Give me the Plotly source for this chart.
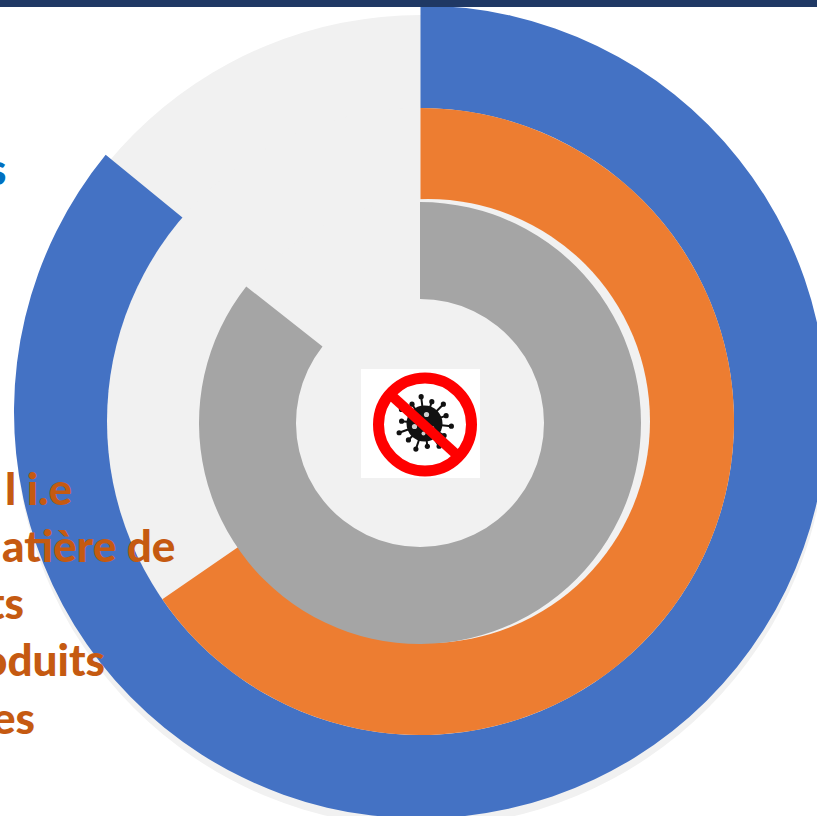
import math
import plotly.graph_objects as go

W, H = 840, 830

# Ring shares, percent of the full turn (remainder is left unfilled)
ring_names = ["Bleu", "Orange", "Gris"]
ring_values = [85.9, 65.4, 85.6]
ring_colors = ["#4472C4", "#ED7D31", "#A5A5A5"]
disc_color = "#F1F1F1"

# Visible text fragments at the left edge
orange_lines = ["l i.e", "atière de", "ts", "oduits", "es"]
blue_lines = ["s"]


def px(x):
    return x / W


def py(y):
    return 1 - y / H


def dom(cx, cy, r):
    return dict(x=[px(cx - r), px(cx + r)], y=[py(cy + r), py(cy - r)])


def disc(cx, cy, r):
    return go.Pie(values=[1], domain=dom(cx, cy, r), sort=False, textinfo="none",
                  hoverinfo="skip", showlegend=False,
                  marker=dict(colors=[disc_color], line=dict(width=0)))


def ring(i, cx, cy, r, hole=0):
    return go.Pie(values=[ring_values[i], 100 - ring_values[i]], labels=[ring_names[i], "reste"],
                  domain=dom(cx, cy, r), hole=hole, sort=False, direction="clockwise", rotation=0,
                  textinfo="none", hoverinfo="skip", showlegend=False,
                  marker=dict(colors=[ring_colors[i], "rgba(0,0,0,0)"], line=dict(width=0)))


fig = go.Figure()
fig.add_trace(disc(421, 421, 406))
fig.add_trace(ring(0, 420.5, 412, 406.5))
fig.add_trace(disc(420.5, 421.5, 313.5))
fig.add_trace(ring(1, 420.5, 421.5, 313.5))
fig.add_trace(disc(428, 421, 222))
fig.add_trace(ring(2, 420, 423, 221, hole=124 / 221))

shapes = []


def rect(x0, y0, x1, y1, color):
    shapes.append(dict(type="rect", xref="paper", yref="paper", x0=px(x0), x1=px(x1), y0=py(y0), y1=py(y1),
                       fillcolor=color, line=dict(width=0), layer="above"))


def circle(cx, cy, r, fill, lw=0, lc="rgba(0,0,0,0)"):
    shapes.append(dict(type="circle", xref="paper", yref="paper", x0=px(cx - r), x1=px(cx + r),
                       y0=py(cy + r), y1=py(cy - r), fillcolor=fill, line=dict(width=lw, color=lc), layer="above"))


def seg(x0, y0, x1, y1, color, lw):
    shapes.append(dict(type="line", xref="paper", yref="paper", x0=px(x0), x1=px(x1), y0=py(y0), y1=py(y1),
                       line=dict(width=lw, color=color), layer="above"))


# Top bar
rect(0, 0, W, 7, "#1F3864")

# Icon
rect(361, 369, 480, 478, "#FFFFFF")
icx, icy = 424.5, 423.5
for k in range(14):
    a = 2 * math.pi * k / 14 + 0.1
    rr = 27 if k % 2 == 0 else 23
    ex, ey = icx + rr * math.cos(a), icy + rr * math.sin(a)
    seg(icx, icy, ex, ey, "#111111", 2)
    circle(ex, ey, 2.6, "#111111")
circle(icx, icy, 18, "#111111")
for dx, dy, r in [(2, -9, 2.6), (-10, 3, 2.6), (-1, 10, 2), (8, 4, 1.6)]:
    circle(icx + dx, icy + dy, r, "#CFCFCF")
circle(425, 424.5, 46.5, "rgba(0,0,0,0)", 11, "#FF0000")
seg(392, 396, 457, 455, "#FF0000", 10)

annotations = []
right_edges = [74, 177, 26, 107, 37]
centers = [488, 545, 602, 659, 717]
for t, x, y in zip(orange_lines, right_edges, centers):
    annotations.append(dict(text=t, xref="paper", yref="paper", x=px(x), y=py(y), xanchor="right", yanchor="middle",
                            showarrow=False, font=dict(family="Lato", size=44, color="#C55A11", weight=900)))
annotations.append(dict(text=blue_lines[0], xref="paper", yref="paper", x=px(8), y=py(168), xanchor="right",
                        yanchor="middle", showarrow=False,
                        font=dict(family="Lato", size=44, color="#0070C0", weight=900)))

fig.update_layout(width=W, height=H, autosize=False, margin=dict(l=0, r=0, t=0, b=0),
                  paper_bgcolor="white", shapes=shapes, annotations=annotations)

fig.write_html("out.html", config=dict(displayModeBar=False),
               post_script="document.documentElement.style.overflow='hidden';document.body.style.overflow='hidden';document.body.style.margin='0';")
